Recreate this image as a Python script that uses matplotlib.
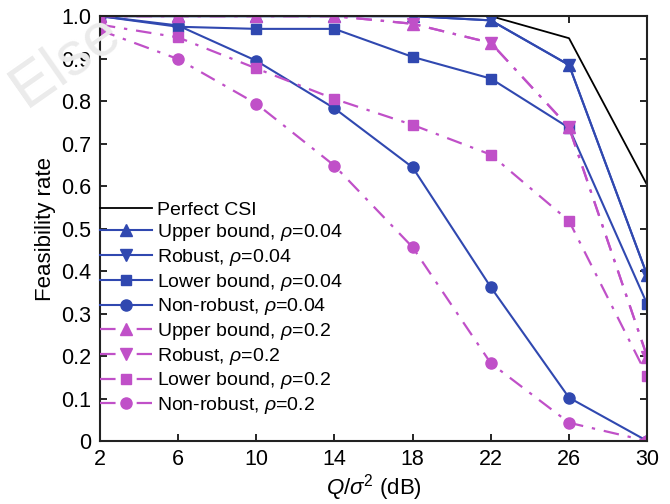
import matplotlib
matplotlib.use('Agg')
import matplotlib.pyplot as plt

plt.rcParams['font.family'] = ['Liberation Sans', 'DejaVu Sans']
plt.rcParams['mathtext.fontset'] = 'custom'
plt.rcParams['mathtext.rm'] = 'Liberation Sans'
plt.rcParams['mathtext.it'] = 'Liberation Sans:italic'

# data
snr = [2, 6, 10, 14, 18, 22, 26, 30]
perfect = [1.0, 1.0, 1.0, 1.0, 1.0, 1.0, 0.948, 0.602]
upper_004 = [1.0, 1.0, 1.0, 1.0, 1.0, 0.99, 0.885, 0.39]
robust_004 = [1.0, 1.0, 1.0, 1.0, 1.0, 0.99, 0.885, 0.39]
lower_004 = [1.0, 0.975, 0.97, 0.97, 0.904, 0.853, 0.737, 0.322]
nonrob_004 = [1.0, 0.978, 0.895, 0.783, 0.644, 0.362, 0.102, 0.0]
upper_02 = [1.0, 1.0, 1.0, 1.0, 0.982, 0.937, 0.738, 0.198]
robust_02 = [1.0, 1.0, 1.0, 1.0, 0.982, 0.937, 0.738, 0.198]
lower_02 = [0.98, 0.95, 0.877, 0.805, 0.744, 0.674, 0.518, 0.153]
nonrob_02 = [0.967, 0.899, 0.794, 0.648, 0.456, 0.183, 0.043, 0.0]

blue = '#3048b0'
mag = '#c050c8'

fig, ax = plt.subplots(figsize=(6.7, 5.04), dpi=100)
fig.subplots_adjust(left=0.149, right=0.966, bottom=0.125, top=0.968)

# faint watermark
fig.text(0.0, 0.765, 'Else', fontsize=44, color='#ebebeb', rotation=35,
         ha='left', va='bottom', zorder=0)

ax.plot(snr, perfect, color='black', lw=1.3, label='Perfect CSI')
ax.plot(snr, upper_004, color=blue, lw=1.5, marker='^', ms=8, label=r'Upper bound, $\rho$=0.04')
ax.plot(snr, robust_004, color=blue, lw=1.5, marker='v', ms=8, label=r'Robust, $\rho$=0.04')
ax.plot(snr, lower_004, color=blue, lw=1.5, marker='s', ms=7, label=r'Lower bound, $\rho$=0.04')
ax.plot(snr, nonrob_004, color=blue, lw=1.5, marker='o', ms=8, label=r'Non-robust, $\rho$=0.04')

dd = (0, (7, 4, 1.5, 4))
ax.plot(snr, upper_02, color=mag, lw=1.6, ls=dd, marker='^', ms=8, label=r'Upper bound, $\rho$=0.2')
ax.plot(snr, robust_02, color=mag, lw=1.6, ls=dd, marker='v', ms=8, label=r'Robust, $\rho$=0.2')
ax.plot(snr, lower_02, color=mag, lw=1.6, ls=dd, marker='s', ms=7, label=r'Lower bound, $\rho$=0.2')
ax.plot(snr, nonrob_02, color=mag, lw=1.6, ls=dd, marker='o', ms=8, label=r'Non-robust, $\rho$=0.2')

ax.set_xlim(2, 30)
ax.set_ylim(0, 1.0)
ax.set_xticks(snr)
ax.set_yticks([i / 10 for i in range(11)])
ax.set_yticklabels(['0'] + ['%.1f' % (i / 10) for i in range(1, 11)])
ax.tick_params(direction='in', top=True, right=True, labelsize=15.5, length=5, width=1.2, pad=6)
for s in ax.spines.values():
    s.set_linewidth(1.5)
    s.set_color('#222222')

ax.set_xlabel(r'$Q/\sigma^2$ (dB)', fontsize=16, labelpad=1)
ax.set_ylabel('Feasibility rate', fontsize=16, labelpad=4)

leg = ax.legend(loc='upper left', bbox_to_anchor=(0.0, 0.565), frameon=False, fontsize=14,
                handlelength=2.7, handletextpad=0.26, labelspacing=0.19, borderaxespad=0, borderpad=0)

fig.savefig('out.png', dpi=100)
